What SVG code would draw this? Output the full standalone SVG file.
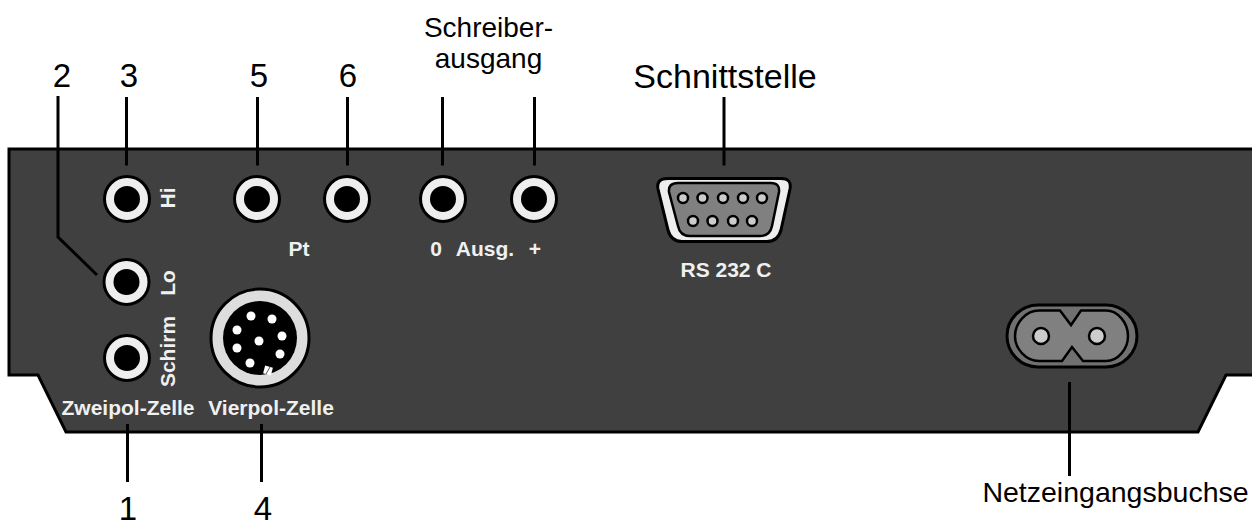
<svg xmlns="http://www.w3.org/2000/svg" width="1252" height="521" viewBox="0 0 1252 521">
<style>
text{font-family:"Liberation Sans",Arial,sans-serif}
.l{font-size:33px;fill:#000;text-anchor:middle}
.m{fill:#000;text-anchor:middle}
.w{font-size:21px;font-weight:bold;fill:#f0f0f0;text-anchor:middle}
.c{stroke:#000;stroke-width:3;fill:none}
.o{fill:#eee;stroke:#000;stroke-width:3}
</style>
<defs>
<g id="jack"><circle r="22.500" class="o"/><circle r="13" fill="#000"/></g>
<circle id="dp" r="5" fill="#ccc" stroke="#000" stroke-width="2.500"/>
</defs>
<g id="panel"><path d="M1252 149H9V375H38L66 432H1198L1226 375H1252" fill="#404040" stroke="#000" stroke-width="3"/></g>
<g id="connectors">
<path class="c" d="M58 96V237L97 275"/>
<path class="c" d="M126.500 97V165.500M257.500 97V165.500M347.500 97V165.500M442.500 97V165.500M534.500 97V165.500M724 97V165.500M127.500 424V482M261.500 424V482M1069.500 382V476"/>
</g>
<g id="jack-3"><use href="#jack" x="127" y="199"/><text class="w" transform="translate(174.500 198) rotate(-90)">Hi</text></g>
<g id="jack-2"><use href="#jack" x="126.500" y="282"/><text class="w" transform="translate(175 283) rotate(-90)">Lo</text></g>
<g id="jack-1"><use href="#jack" x="127" y="358"/><text class="w" transform="translate(175 351.500) rotate(-90)">Schirm</text></g>
<g id="jack-5"><use href="#jack" x="257" y="199"/></g>
<g id="jack-6"><use href="#jack" x="347" y="199"/></g>
<g id="jack-0"><use href="#jack" x="443" y="199"/></g>
<g id="jack-plus"><use href="#jack" x="534" y="199"/></g>
<g id="din">
<circle cx="260" cy="338" r="49" fill="#ddd" stroke="#000" stroke-width="3"/>
<circle cx="260" cy="338" r="37" fill="#000"/>
<g fill="#fff"><circle cx="251" cy="316" r="4.500"/><circle cx="272" cy="319" r="4.500"/><circle cx="237" cy="330" r="4.500"/><circle cx="282" cy="336" r="4.500"/><circle cx="259" cy="341" r="4.500"/><circle cx="237" cy="348" r="4.500"/><circle cx="280" cy="354" r="4.500"/><circle cx="250" cy="363" r="4.500"/></g>
<rect x="264" y="366.500" width="8" height="8" fill="#fff" transform="rotate(15 268 370.500)"/><path d="M266 374L270 367" stroke="#555" stroke-width="1"/>
</g>
<g id="subd">
<path d="M668 178.500H781Q792 178.500 790 189L781 230Q778 241.500 767 241.500H682Q671 241.500 668 230L658 189Q656 178.500 668 178.500Z" class="o"/>
<path d="M678 183H771Q780 183 779 192L772 226Q770 236 760 236H690Q680 236 678 226L669 192Q668 183 678 183Z" fill="#808080" stroke="#000" stroke-width="2.500"/>
<use href="#dp" x="683" y="198"/><use href="#dp" x="702.500" y="198"/><use href="#dp" x="723" y="198"/><use href="#dp" x="743" y="198"/><use href="#dp" x="762" y="198"/>
<use href="#dp" x="693" y="221"/><use href="#dp" x="712.500" y="221"/><use href="#dp" x="733" y="221"/><use href="#dp" x="752" y="221"/>
</g>
<g id="power">
<rect x="1007" y="305" width="130" height="62" rx="31" fill="#707070" stroke="#000" stroke-width="3"/>
<path d="M1039 310.500H1060L1071 325L1081 310.500H1106C1118 310.500 1128 323 1128 336C1128 349 1118 361 1106 361H1083L1072 347L1062 361H1039C1026 361 1015 349 1015 336C1015 323 1026 310.500 1039 310.500Z" fill="#808080" stroke="#000" stroke-width="2.500"/>
<circle cx="1041" cy="336" r="8" fill="#ccc" stroke="#000" stroke-width="2.500"/><circle cx="1097" cy="336" r="8" fill="#ccc" stroke="#000" stroke-width="2.500"/>
</g>
<g id="labels">
<text class="l" x="62" y="87">2</text><text class="l" x="129" y="87">3</text><text class="l" x="259" y="87">5</text><text class="l" x="348" y="87">6</text>
<text class="l" x="128" y="520">1</text><text class="l" x="263" y="520">4</text>
<text class="m" x="488.500" y="37" font-size="28">Schreiber-</text><text class="m" x="488.500" y="68" font-size="28">ausgang</text>
<text class="m" x="725" y="88" font-size="34">Schnittstelle</text>
<text class="m" x="1115.500" y="502" font-size="28.500">Netzeingangsbuchse</text>
<text class="w" x="128" y="415">Zweipol-Zelle</text><text class="w" x="271" y="415">Vierpol-Zelle</text>
<text class="w" x="299" y="256">Pt</text><text class="w" x="436" y="256">0</text><text class="w" x="485" y="256">Ausg.</text><text class="w" x="535" y="256">+</text>
<text class="w" x="726" y="277">RS 232 C</text>
</g>
</svg>
